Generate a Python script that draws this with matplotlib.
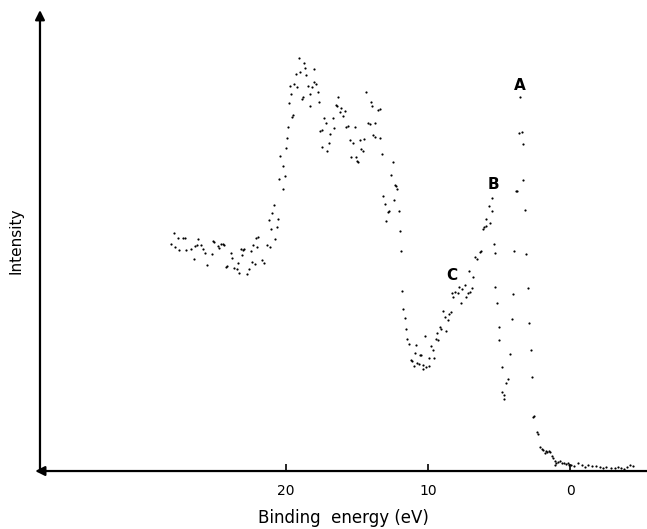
import matplotlib.pyplot as plt

# photoelectron spectrum
# binding energy (eV) and intensity (arbitrary units, 0 at the baseline)
energy = [
    28.08, 27.87, 27.80, 27.61, 27.51, 27.27, 27.09, 27.02, 26.71, 26.50,
    26.39, 26.29, 26.18, 25.99, 25.85, 25.73, 25.54, 25.23, 25.12, 25.05,
    24.79, 24.70, 24.56, 24.44, 24.37, 24.25, 24.13, 23.89, 23.80, 23.66,
    23.47, 23.38, 23.29, 23.15, 23.05, 22.94, 23.10, 22.77, 22.63, 22.49,
    22.42, 22.20, 22.32, 22.02, 22.09, 21.99, 21.67, 21.53, 21.36, 21.15,
    21.22, 21.04, 20.96, 20.75, 20.65, 20.85, 20.54, 20.47, 20.19, 20.09,
    20.19, 20.40, 20.02, 19.93, 19.88, 19.56, 19.49, 19.81, 19.65, 19.72,
    19.44, 19.23, 19.32, 19.04, 19.08, 18.73, 18.64, 18.57, 18.87, 18.80,
    18.45, 18.17, 18.29, 18.29, 18.01, 18.03, 17.89, 17.77, 17.65, 17.46,
    17.32, 17.20, 17.58, 17.49, 17.09, 16.99, 16.88, 16.71, 16.62, 16.50,
    16.43, 16.32, 16.22, 16.13, 16.01, 15.85, 15.75, 15.63, 15.47, 15.30,
    15.40, 15.16, 15.09, 14.98, 14.91, 14.81, 14.70, 14.60, 14.53, 14.37,
    14.23, 14.11, 14.01, 13.92, 13.85, 13.71, 13.71, 13.50, 13.40, 13.38,
    13.24, 13.15, 13.03, 12.96, 12.82, 12.73, 12.58, 12.49, 12.37, 12.30,
    12.23, 12.18, 12.06, 11.97, 11.90, 11.83, 11.74, 11.60, 11.53, 11.46,
    11.32, 11.22, 11.11, 11.01, 10.94, 10.85, 10.75, 10.63, 10.56, 10.47,
    10.37, 10.33, 10.19, 10.14, 9.95, 9.93, 9.79, 9.65, 9.58, 9.44,
    9.39, 9.32, 9.13, 9.08, 8.92, 8.82, 8.73, 8.59, 8.54, 8.40,
    8.31, 8.24, 8.08, 7.91, 7.80, 7.65, 7.58, 7.42, 7.35, 7.20,
    7.06, 6.92, 7.11, 6.83, 6.69, 6.55, 6.34, 6.27, 6.15, 6.04,
    5.94, 5.89, 5.65, 5.51, 5.70, 5.47, 5.37, 5.28, 5.26, 5.12,
    5.00, 4.98, 4.81, 4.77, 4.63, 4.67, 4.51, 4.35, 4.25, 4.08,
    3.99, 3.92, 3.78, 3.71, 3.31, 3.15, 3.08, 2.96, 2.91, 2.77,
    2.68, 2.61, 2.51, 2.35, 2.25, 3.61, 3.38, 3.33, 3.50,
    2.13, 2.00, 1.88, 1.78, 1.69, 1.60, 1.50, 1.41, 1.27, 1.20,
    1.06, 0.96, 1.04, 0.82, 0.68, 0.56, 0.42, 0.28, 0.16, 0.07,
    -0.10, -0.30, -0.54, -0.82, -1.06, -1.26, -1.55, -1.84, -2.13, -2.33,
    -2.56, -2.86, -3.15, -3.35, -3.58, -3.82, -4.02, -4.25, -4.46,
]
intensity = [
    227, 238, 224, 233, 221, 233, 233, 221, 222, 212,
    225, 226, 232, 226, 222, 218, 206, 217, 230, 229,
    225, 223, 227, 227, 226, 204, 205, 218, 213, 203,
    202, 208, 198, 222, 221, 222, 216, 197, 202, 220,
    209, 207, 226, 224, 233, 234, 211, 208, 226, 224,
    251, 242, 258, 232, 244, 266, 252, 292, 282, 295,
    305, 315, 323, 333, 344, 354, 356, 368, 377, 385,
    387, 384, 397, 399, 413, 408, 403, 396, 372, 374,
    385, 384, 365, 377, 402, 389, 387, 379, 369, 324,
    353, 348, 340, 341, 320, 328, 337, 353, 343, 366,
    365, 374, 359, 363, 355, 360, 344, 345, 331, 328,
    314, 344, 314, 310, 309, 331, 322, 320, 332, 379,
    348, 347, 369, 365, 336, 334, 348, 361, 362, 333,
    317, 275, 267, 250, 259, 260, 296, 309, 271, 286,
    285, 282, 260, 240, 220, 180, 162, 153, 142, 132,
    127, 111, 110, 105, 118, 126, 108, 107, 116, 116,
    102, 106, 135, 104, 105, 113, 125, 121, 113, 132,
    138, 131, 144, 142, 160, 154, 140, 151, 157, 159,
    178, 174, 179, 178, 184, 168, 182, 186, 174, 178,
    179, 183, 200, 194, 214, 212, 219, 220, 242, 244,
    245, 252, 248, 260, 265, 273, 227, 218, 184, 168,
    144, 131, 104, 79, 76, 72, 88, 92, 117, 152,
    177, 220, 280, 280, 291, 261, 217, 183, 148, 121,
    94, 54, 55, 39, 37, 338, 339, 327, 374,
    24, 22, 21, 18, 20, 19, 20, 19, 15, 13,
    10, 8, 6, 9, 10, 8, 8, 7, 8, 6,
    6, 5, 8, 6, 4, 6, 5, 5, 4, 3,
    4, 3, 3, 4, 3, 2, 4, 6, 5,
]

tick_values = [20, 10, 0]
peak_names = ['A', 'B', 'C']
peak_energy = [3.52, 5.42, 8.31]
peak_height = [386, 287, 196]

fig = plt.figure(figsize=(6.47, 5.29), dpi=100)
ax = fig.add_axes([0.0618, 0.1096, 0.9382, 0.8714])

ax.scatter(energy, intensity, s=2.5, c='black', marker='o', linewidths=0)

for name, e, h in zip(peak_names, peak_energy, peak_height):
    ax.text(e, h, name, ha='center', va='center', fontsize=11, fontweight='bold')

ax.set_xlim(37.32, -5.42)
ax.set_ylim(0, 461)

# hand-drawn style arrow axes instead of spines
for s in ax.spines.values():
    s.set_visible(False)
ax.annotate('', xy=(0, 1), xytext=(0, 0), xycoords='axes fraction',
            arrowprops=dict(arrowstyle='-|>', color='black', lw=1.6,
                            mutation_scale=14, shrinkA=0, shrinkB=0))
ax.annotate('', xy=(-0.008, 0), xytext=(1, 0), xycoords='axes fraction',
            arrowprops=dict(arrowstyle='-|>', color='black', lw=1.6,
                            mutation_scale=14, shrinkA=0, shrinkB=0))

ax.set_xticks(tick_values)
ax.set_xticklabels([str(t) for t in tick_values], fontsize=10)
ax.tick_params(axis='x', direction='in', length=5, width=1.2, pad=9)
ax.set_yticks([])

ax.set_xlabel('Binding  energy (eV)', fontsize=12, labelpad=8)
ax.set_ylabel('Intensity', fontsize=11, labelpad=12)

fig.savefig('out.png', dpi=100)
